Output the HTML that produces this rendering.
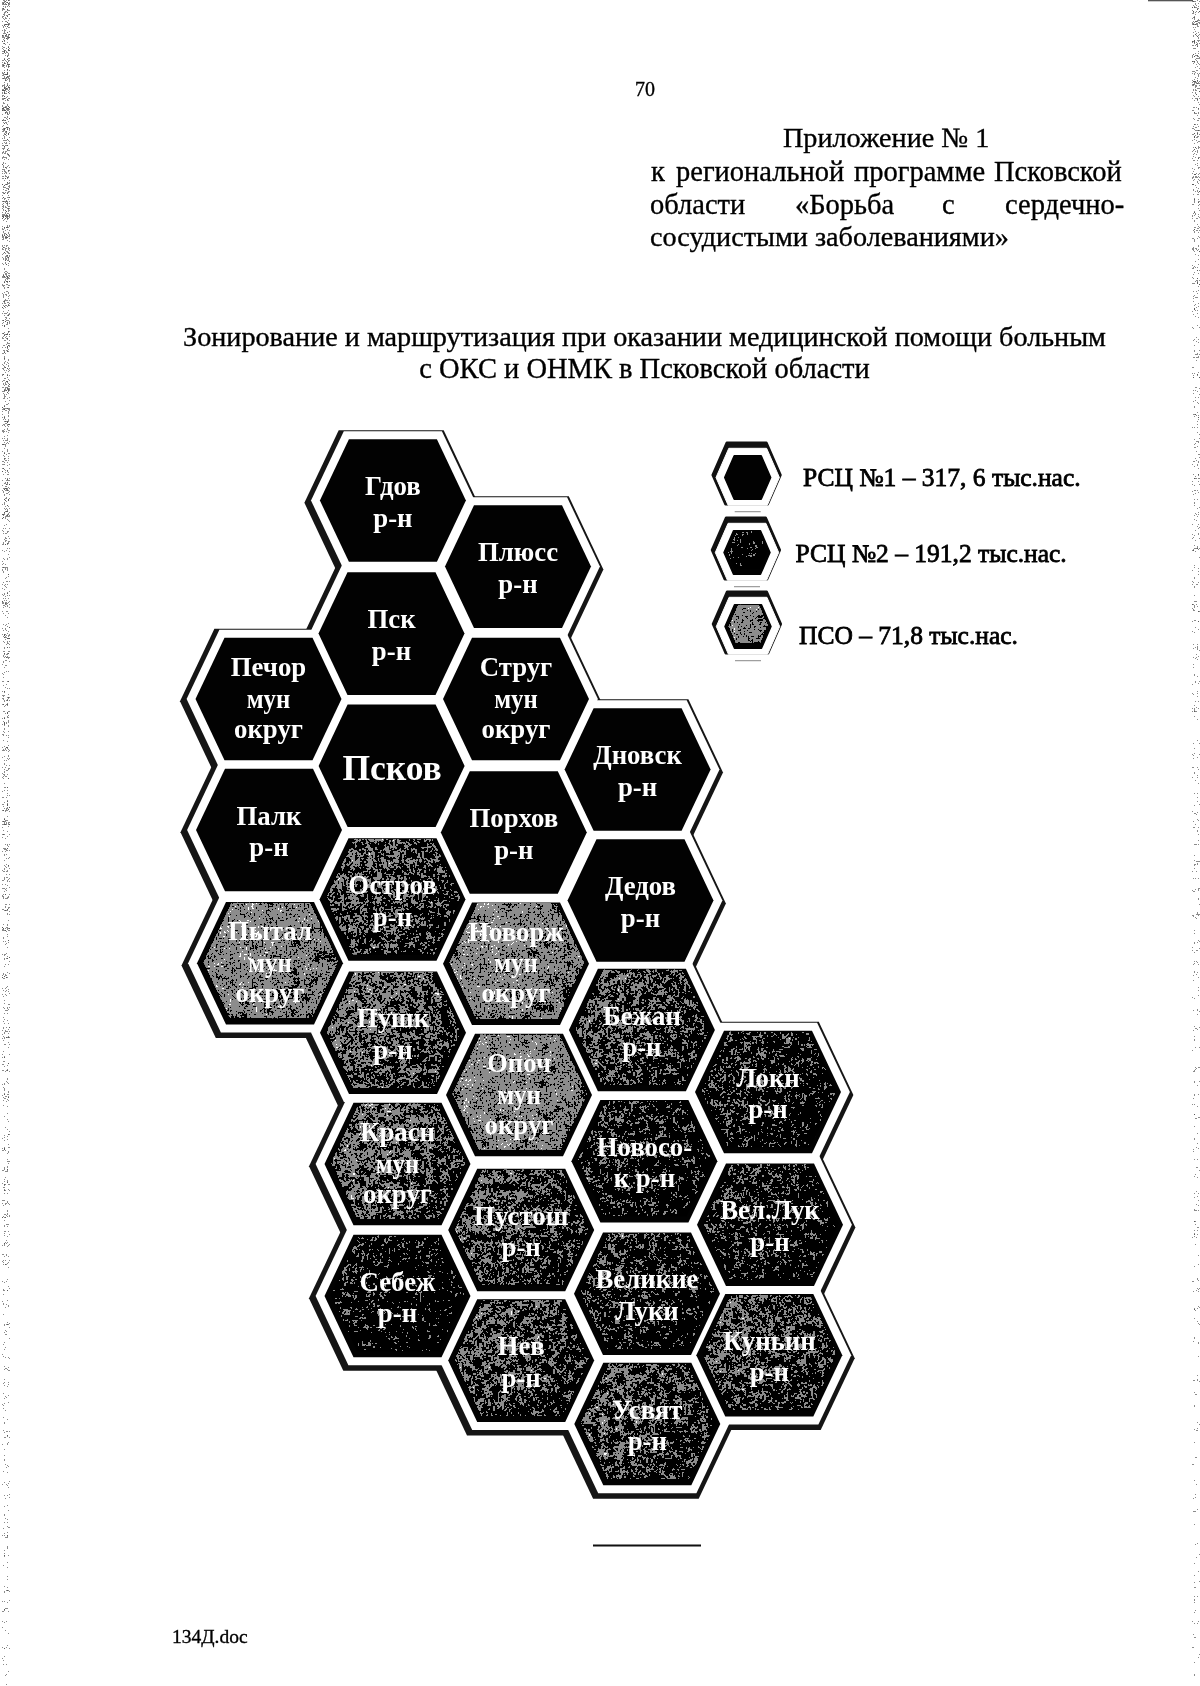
<!DOCTYPE html>
<html><head><meta charset="utf-8"><style>
html,body{margin:0;padding:0;background:#fff;width:1200px;height:1686px;overflow:hidden}
svg{display:block;will-change:transform}
</style></head><body><svg width="1200" height="1686" viewBox="0 0 1200 1686">
<defs>
 <linearGradient id="dm1" x1="0" y1="0" x2="1" y2="0.6">
  <stop offset="0" stop-color="rgb(115,115,115)"/><stop offset="1" stop-color="rgb(89,89,89)"/>
 </linearGradient>
 <linearGradient id="dm2" x1="0" y1="0" x2="1" y2="0.6">
  <stop offset="0" stop-color="rgb(107,107,107)"/><stop offset="1" stop-color="rgb(84,84,84)"/>
 </linearGradient>
 <linearGradient id="dm3" x1="0" y1="0" x2="1" y2="0.6">
  <stop offset="0" stop-color="rgb(94,94,94)"/><stop offset="1" stop-color="rgb(74,74,74)"/>
 </linearGradient>
 <linearGradient id="dm4" x1="0" y1="0" x2="1" y2="0.6">
  <stop offset="0" stop-color="rgb(87,87,87)"/><stop offset="1" stop-color="rgb(66,66,66)"/>
 </linearGradient>
 <linearGradient id="dl" x1="0" y1="0" x2="1" y2="0.6">
  <stop offset="0" stop-color="rgb(128,128,128)"/><stop offset="1" stop-color="rgb(102,102,102)"/>
 </linearGradient>
 <linearGradient id="edl" x1="0" y1="0" x2="0" y2="1">
  <stop offset="0" stop-color="rgb(155,155,155)"/><stop offset="0.4" stop-color="rgb(142,142,142)"/><stop offset="1" stop-color="rgb(128,128,128)"/>
 </linearGradient>
 <linearGradient id="edr" x1="0" y1="0" x2="0" y2="1">
  <stop offset="0" stop-color="rgb(150,150,150)"/><stop offset="0.2" stop-color="rgb(135,135,135)"/><stop offset="1" stop-color="rgb(122,122,122)"/>
 </linearGradient>
 <filter id="edge" color-interpolation-filters="sRGB" x="0" y="0" width="1" height="1">
  <feTurbulence type="fractalNoise" baseFrequency="0.7" numOctaves="1" seed="21" result="n1"/>
  <feTurbulence type="fractalNoise" baseFrequency="0.02 0.15" numOctaves="1" seed="5" result="n2"/>
  <feColorMatrix in="n1" type="matrix" values="1 0 0 0 0  1 0 0 0 0  1 0 0 0 0  0 0 0 0 1" result="g1"/>
  <feColorMatrix in="n2" type="matrix" values="1 0 0 0 0  1 0 0 0 0  1 0 0 0 0  0 0 0 0 1" result="g2"/>
  <feComposite in="g1" in2="g2" operator="arithmetic" k2="0.7" k3="0.3" result="n"/>
  <feComposite in="SourceGraphic" in2="n" operator="arithmetic" k2="1" k3="1" k4="-0.5" result="t"/>
  <feColorMatrix in="t" type="matrix" values="0 0 0 0 0.35  0 0 0 0 0.35  0 0 0 0 0.35  4 0 0 0 -2.2"/>
  <feComponentTransfer><feFuncA type="discrete" tableValues="0 0.7 1"/></feComponentTransfer>
  <feComposite in2="SourceAlpha" operator="in"/>
 </filter>
 <filter id="texM" color-interpolation-filters="sRGB" x="0" y="0" width="1" height="1">
  <feTurbulence type="fractalNoise" baseFrequency="0.45" numOctaves="1" seed="4" result="n1"/>
  <feTurbulence type="fractalNoise" baseFrequency="0.12" numOctaves="2" seed="11" result="n2"/>
  <feColorMatrix in="n1" type="matrix" values="1 0 0 0 0  1 0 0 0 0  1 0 0 0 0  0 0 0 0 1" result="g1"/>
  <feColorMatrix in="n2" type="matrix" values="1 0 0 0 0  1 0 0 0 0  1 0 0 0 0  0 0 0 0 1" result="g2"/>
  <feComposite in="g1" in2="g2" operator="arithmetic" k2="0.6" k3="0.4" result="n"/>
  <feComposite in="SourceGraphic" in2="n" operator="arithmetic" k2="1" k3="1" k4="-0.5" result="t"/>
  <feColorMatrix in="t" type="matrix" values="3 0 0 0 -1  3 0 0 0 -1  3 0 0 0 -1  0 0 0 0 1" result="q"/>
  <feComponentTransfer in="q">
   <feFuncR type="discrete" tableValues="0 0.55 0.55 0.55 1"/>
   <feFuncG type="discrete" tableValues="0 0.55 0.55 0.55 1"/>
   <feFuncB type="discrete" tableValues="0 0.55 0.55 0.55 1"/>
  </feComponentTransfer>
  <feComposite in2="SourceAlpha" operator="in"/>
 </filter>
 <filter id="texL" color-interpolation-filters="sRGB" x="0" y="0" width="1" height="1">
  <feTurbulence type="fractalNoise" baseFrequency="0.5" numOctaves="1" seed="4" result="n1"/>
  <feTurbulence type="fractalNoise" baseFrequency="0.08" numOctaves="2" seed="11" result="n2"/>
  <feColorMatrix in="n1" type="matrix" values="1 0 0 0 0  1 0 0 0 0  1 0 0 0 0  0 0 0 0 1" result="g1"/>
  <feColorMatrix in="n2" type="matrix" values="1 0 0 0 0  1 0 0 0 0  1 0 0 0 0  0 0 0 0 1" result="g2"/>
  <feComposite in="g1" in2="g2" operator="arithmetic" k2="0.65" k3="0.35" result="n"/>
  <feComposite in="SourceGraphic" in2="n" operator="arithmetic" k2="1" k3="1" k4="-0.5" result="t"/>
  <feColorMatrix in="t" type="matrix" values="3 0 0 0 -1  3 0 0 0 -1  3 0 0 0 -1  0 0 0 0 1" result="q"/>
  <feComponentTransfer in="q">
   <feFuncR type="discrete" tableValues="0 0.55 0.55 0.55 0.55 0.55 0.55 1"/>
   <feFuncG type="discrete" tableValues="0 0.55 0.55 0.55 0.55 0.55 0.55 1"/>
   <feFuncB type="discrete" tableValues="0 0.55 0.55 0.55 0.55 0.55 0.55 1"/>
  </feComponentTransfer>
  <feComposite in2="SourceAlpha" operator="in"/>
 </filter>
</defs>
<rect width="1200" height="1686" fill="#fff"/>
<g fill="#000" font-family="'Liberation Serif', serif" stroke="#000" stroke-width="0.35">
 <text x="635" y="96" font-size="20">70</text>
 <text x="783" y="147" font-size="28.2">Приложение № 1</text>
 <text x="651" y="181" font-size="28.5">к</text>
 <text x="676" y="181" font-size="28.5">региональной</text>
 <text x="854" y="181" font-size="28.5">программе</text>
 <text x="994" y="181" font-size="28.5">Псковской</text>
 <text x="650" y="213.5" font-size="28.5">области</text>
 <text x="795" y="213.5" font-size="28.5">«Борьба</text>
 <text x="942" y="213.5" font-size="28.5">с</text>
 <text x="1005" y="213.5" font-size="28.5">сердечно-</text>
 <text x="650" y="246.3" font-size="28.2">сосудистыми заболеваниями»</text>
 <text x="644.5" y="346.3" font-size="28.2" text-anchor="middle">Зонирование и маршрутизация при оказании медицинской помощи больным</text>
 <text x="644.5" y="377.5" font-size="28.5" text-anchor="middle">с ОКС и ОНМК в Псковской области</text>
 <text x="803" y="486" font-size="25.5" stroke-width="0.8">РСЦ №1 – 317, 6 тыс.нас.</text>
 <text x="795.5" y="562" font-size="25.5" stroke-width="0.8">РСЦ №2 – 191,2 тыс.нас.</text>
 <text x="799" y="643.5" font-size="25.5" stroke-width="0.8">ПСО – 71,8 тыс.нас.</text>
 <text x="172" y="1642.5" font-size="19.5">134Д.doc</text>
</g>
<rect x="593" y="1544.5" width="108" height="2" fill="#111"/>
<polygon points="712.7,475.0 726.8,442.8 766.4,442.8 780.5,475.0 767.7,504.2 725.5,504.2" fill="#111" stroke="#111" stroke-width="2.5" stroke-linejoin="round"/><polygon points="716.0,477.5 728.8,448.3 766.6,448.3 779.4,477.5 767.3,505.2 728.1,505.2" fill="#fff" stroke="#fff" stroke-width="1" stroke-linejoin="round"/><rect x="734.7" y="511.2" width="26" height="1" fill="#888"/><polygon points="724.7,477.5 734.2,455.8 761.2,455.8 770.7,477.5 761.2,499.2 734.2,499.2" fill="#020202" stroke="#020202" stroke-width="1.5" stroke-linejoin="round"/><polygon points="712.0,550.0 726.1,517.8 765.7,517.8 779.8,550.0 767.0,579.2 724.8,579.2" fill="#111" stroke="#111" stroke-width="2.5" stroke-linejoin="round"/><polygon points="715.3,552.5 728.1,523.3 765.9,523.3 778.7,552.5 766.6,580.2 727.4,580.2" fill="#fff" stroke="#fff" stroke-width="1" stroke-linejoin="round"/><rect x="734" y="586.2" width="26" height="1" fill="#888"/><polygon points="724.0,552.5 733.5,530.8 760.5,530.8 770.0,552.5 760.5,574.2 733.5,574.2" fill="#020202" stroke="#020202" stroke-width="1.5" stroke-linejoin="round"/><polygon points="727.3,552.5 736.8,530.8 758.3,530.8 767.3,551.3 759.4,569.2 734.6,569.2" fill="url(#dm4)" filter="url(#texM)"/><polygon points="713.0,624.0 727.1,591.8 766.7,591.8 780.8,624.0 768.0,653.2 725.8,653.2" fill="#111" stroke="#111" stroke-width="2.5" stroke-linejoin="round"/><polygon points="716.3,626.5 729.1,597.3 766.9,597.3 779.7,626.5 767.6,654.2 728.4,654.2" fill="#fff" stroke="#fff" stroke-width="1" stroke-linejoin="round"/><rect x="735" y="660.2" width="26" height="1" fill="#888"/><polygon points="725.0,626.5 734.5,604.8 761.5,604.8 771.0,626.5 761.5,648.2 734.5,648.2" fill="#020202" stroke="#020202" stroke-width="1.5" stroke-linejoin="round"/><polygon points="728.3,626.5 737.8,604.8 759.3,604.8 768.3,625.3 760.4,643.2 735.6,643.2" fill="url(#dl)" filter="url(#texL)"/>
<g fill="#151515"><polygon points="304.4,502.8 338.7,430.2 443.7,430.2 478.3,503.4 444.3,575.3 338.6,575.3"/><polygon points="429.5,568.9 463.9,496.3 568.8,496.3 603.4,569.5 569.4,641.4 463.8,641.4"/><polygon points="303.0,635.9 337.4,563.3 442.3,563.3 476.9,636.5 442.9,708.4 337.3,708.4"/><polygon points="180.0,701.3 214.4,628.7 319.3,628.7 353.9,701.9 319.9,773.8 214.3,773.8"/><polygon points="427.5,701.3 461.9,628.7 566.8,628.7 601.4,701.9 567.4,773.8 461.8,773.8"/><polygon points="303.1,768.2 337.5,695.6 442.4,695.6 477.0,768.8 443.0,840.6 337.4,840.6"/><polygon points="549.1,771.8 583.5,699.2 688.4,699.2 723.0,772.4 689.0,844.3 583.4,844.3"/><polygon points="180.5,832.3 214.9,759.7 319.8,759.7 354.4,832.9 320.4,904.8 214.8,904.8"/><polygon points="425.3,834.8 459.6,762.2 564.6,762.2 599.2,835.4 565.2,907.3 459.5,907.3"/><polygon points="304.0,901.8 338.4,829.2 443.3,829.2 477.9,902.4 443.9,974.3 338.3,974.3"/><polygon points="552.0,902.8 586.4,830.2 691.3,830.2 725.9,903.4 691.9,975.3 586.3,975.3"/><polygon points="181.5,965.5 215.9,892.9 320.8,892.9 355.4,966.1 321.4,1038.0 215.8,1038.0"/><polygon points="427.5,966.1 461.9,893.5 566.8,893.5 601.4,966.7 567.4,1038.5 461.8,1038.5"/><polygon points="553.4,1032.3 587.8,959.7 692.7,959.7 727.3,1032.9 693.3,1104.8 587.7,1104.8"/><polygon points="304.5,1035.1 338.9,962.5 443.8,962.5 478.4,1035.7 444.4,1107.6 338.8,1107.6"/><polygon points="430.5,1097.3 464.9,1024.7 569.8,1024.7 604.4,1097.9 570.4,1169.8 464.8,1169.8"/><polygon points="679.5,1094.3 713.9,1021.7 818.8,1021.7 853.4,1094.9 819.4,1166.8 713.8,1166.8"/><polygon points="309.0,1166.3 343.4,1093.7 448.3,1093.7 482.9,1166.9 448.9,1238.8 343.3,1238.8"/><polygon points="555.9,1163.6 590.3,1091.0 695.2,1091.0 729.8,1164.2 695.8,1236.0 590.2,1236.0"/><polygon points="432.8,1232.3 467.1,1159.7 572.1,1159.7 606.7,1232.9 572.7,1304.8 467.0,1304.8"/><polygon points="681.5,1227.0 715.9,1154.4 820.8,1154.4 855.4,1227.6 821.4,1299.5 715.8,1299.5"/><polygon points="309.0,1298.3 343.4,1225.7 448.3,1225.7 482.9,1298.9 448.9,1370.8 343.3,1370.8"/><polygon points="558.5,1296.0 592.9,1223.4 697.8,1223.4 732.4,1296.6 698.4,1368.5 592.8,1368.5"/><polygon points="432.8,1362.9 467.1,1290.3 572.1,1290.3 606.7,1363.5 572.7,1435.4 467.0,1435.4"/><polygon points="680.8,1357.6 715.2,1285.0 820.1,1285.0 854.7,1358.2 820.7,1430.1 715.1,1430.1"/><polygon points="558.8,1426.3 593.2,1353.7 698.1,1353.7 732.7,1426.9 698.7,1498.8 593.1,1498.8"/></g>
<g fill="#fff"><polygon points="311.0,500.5 343.8,431.2 441.9,431.2 474.7,500.5 441.9,569.8 343.8,569.8"/><polygon points="436.1,566.6 468.9,497.3 567.1,497.3 599.9,566.6 567.1,635.9 468.9,635.9"/><polygon points="309.6,633.6 342.4,564.3 440.6,564.3 473.4,633.6 440.6,702.9 342.4,702.9"/><polygon points="186.6,699.0 219.4,629.7 317.6,629.7 350.4,699.0 317.6,768.3 219.4,768.3"/><polygon points="434.1,699.0 466.9,629.7 565.1,629.7 597.9,699.0 565.1,768.3 466.9,768.3"/><polygon points="309.7,765.9 342.5,696.6 440.7,696.6 473.5,765.9 440.7,835.1 342.5,835.1"/><polygon points="555.7,769.5 588.5,700.2 686.7,700.2 719.5,769.5 686.7,838.8 588.5,838.8"/><polygon points="187.1,830.0 219.9,760.7 318.1,760.7 350.9,830.0 318.1,899.3 219.9,899.3"/><polygon points="431.9,832.5 464.7,763.2 562.8,763.2 595.6,832.5 562.8,901.8 464.7,901.8"/><polygon points="310.6,899.5 343.4,830.2 441.6,830.2 474.4,899.5 441.6,968.8 343.4,968.8"/><polygon points="558.6,900.5 591.4,831.2 689.6,831.2 722.4,900.5 689.6,969.8 591.4,969.8"/><polygon points="188.1,963.2 220.9,893.9 319.1,893.9 351.9,963.2 319.1,1032.5 220.9,1032.5"/><polygon points="434.1,963.8 466.9,894.5 565.1,894.5 597.9,963.8 565.1,1033.0 466.9,1033.0"/><polygon points="560.0,1030.0 592.8,960.7 691.0,960.7 723.8,1030.0 691.0,1099.3 592.8,1099.3"/><polygon points="311.1,1032.8 343.9,963.5 442.1,963.5 474.9,1032.8 442.1,1102.1 343.9,1102.1"/><polygon points="437.1,1095.0 469.9,1025.7 568.1,1025.7 600.9,1095.0 568.1,1164.3 469.9,1164.3"/><polygon points="686.1,1092.0 718.9,1022.7 817.1,1022.7 849.9,1092.0 817.1,1161.3 718.9,1161.3"/><polygon points="315.6,1164.0 348.4,1094.7 446.6,1094.7 479.4,1164.0 446.6,1233.3 348.4,1233.3"/><polygon points="562.5,1161.2 595.3,1092.0 693.5,1092.0 726.3,1161.2 693.5,1230.5 595.3,1230.5"/><polygon points="439.4,1230.0 472.2,1160.7 570.3,1160.7 603.1,1230.0 570.3,1299.3 472.2,1299.3"/><polygon points="688.1,1224.7 720.9,1155.4 819.1,1155.4 851.9,1224.7 819.1,1294.0 720.9,1294.0"/><polygon points="315.6,1296.0 348.4,1226.7 446.6,1226.7 479.4,1296.0 446.6,1365.3 348.4,1365.3"/><polygon points="565.1,1293.7 597.9,1224.4 696.1,1224.4 728.9,1293.7 696.1,1363.0 597.9,1363.0"/><polygon points="439.4,1360.6 472.2,1291.3 570.3,1291.3 603.1,1360.6 570.3,1429.9 472.2,1429.9"/><polygon points="687.4,1355.3 720.2,1286.0 818.4,1286.0 851.2,1355.3 818.4,1424.6 720.2,1424.6"/><polygon points="565.4,1424.0 598.2,1354.7 696.4,1354.7 729.2,1424.0 696.4,1493.3 598.2,1493.3"/></g>
<g><polygon points="319.9,500.5 348.9,439.2 436.9,439.2 465.9,500.5 436.9,561.8 348.9,561.8" fill="#020202"/><polygon points="445.0,566.6 474.0,505.3 562.0,505.3 591.0,566.6 562.0,627.9 474.0,627.9" fill="#020202"/><polygon points="318.5,633.6 347.5,572.3 435.5,572.3 464.5,633.6 435.5,694.9 347.5,694.9" fill="#020202"/><polygon points="195.5,699.0 224.5,637.7 312.5,637.7 341.5,699.0 312.5,760.3 224.5,760.3" fill="#020202"/><polygon points="443.0,699.0 472.0,637.7 560.0,637.7 589.0,699.0 560.0,760.3 472.0,760.3" fill="#020202"/><polygon points="318.6,765.9 347.6,704.6 435.6,704.6 464.6,765.9 435.6,827.1 347.6,827.1" fill="#020202"/><polygon points="564.6,769.5 593.6,708.2 681.6,708.2 710.6,769.5 681.6,830.8 593.6,830.8" fill="#020202"/><polygon points="196.0,830.0 225.0,768.7 313.0,768.7 342.0,830.0 313.0,891.3 225.0,891.3" fill="#020202"/><polygon points="440.8,832.5 469.8,771.2 557.8,771.2 586.8,832.5 557.8,893.8 469.8,893.8" fill="#020202"/><polygon points="319.5,899.5 348.5,838.2 436.5,838.2 465.5,899.5 436.5,960.8 348.5,960.8" fill="#020202"/><polygon points="325.6,898.3 353.8,838.7 432.9,838.7 461.1,898.3 434.4,954.8 352.3,954.8" fill="url(#dm2)" filter="url(#texM)"/><polygon points="567.5,900.5 596.5,839.2 684.5,839.2 713.5,900.5 684.5,961.8 596.5,961.8" fill="#020202"/><polygon points="197.0,963.2 226.0,901.9 314.0,901.9 343.0,963.2 314.0,1024.5 226.0,1024.5" fill="#020202"/><polygon points="203.1,962.0 231.3,902.4 310.4,902.4 338.6,962.0 311.9,1018.5 229.8,1018.5" fill="url(#dl)" filter="url(#texL)"/><polygon points="443.0,963.8 472.0,902.5 560.0,902.5 589.0,963.8 560.0,1025.0 472.0,1025.0" fill="#020202"/><polygon points="449.1,962.6 477.3,903.0 556.4,903.0 584.6,962.6 557.9,1019.0 475.8,1019.0" fill="url(#dl)" filter="url(#texL)"/><polygon points="568.9,1030.0 597.9,968.7 685.9,968.7 714.9,1030.0 685.9,1091.3 597.9,1091.3" fill="#020202"/><polygon points="575.0,1028.8 603.2,969.2 682.3,969.2 710.5,1028.8 683.8,1085.3 601.7,1085.3" fill="url(#dm2)" filter="url(#texM)"/><polygon points="320.0,1032.8 349.0,971.5 437.0,971.5 466.0,1032.8 437.0,1094.1 349.0,1094.1" fill="#020202"/><polygon points="326.1,1031.6 354.3,972.0 433.4,972.0 461.6,1031.6 434.9,1088.1 352.8,1088.1" fill="url(#dm1)" filter="url(#texM)"/><polygon points="446.0,1095.0 475.0,1033.7 563.0,1033.7 592.0,1095.0 563.0,1156.3 475.0,1156.3" fill="#020202"/><polygon points="452.1,1093.8 480.3,1034.2 559.4,1034.2 587.6,1093.8 560.9,1150.3 478.8,1150.3" fill="url(#dl)" filter="url(#texL)"/><polygon points="695.0,1092.0 724.0,1030.7 812.0,1030.7 841.0,1092.0 812.0,1153.3 724.0,1153.3" fill="#020202"/><polygon points="701.1,1090.8 729.3,1031.2 808.4,1031.2 836.6,1090.8 809.9,1147.3 727.8,1147.3" fill="url(#dm3)" filter="url(#texM)"/><polygon points="324.5,1164.0 353.5,1102.7 441.5,1102.7 470.5,1164.0 441.5,1225.3 353.5,1225.3" fill="#020202"/><polygon points="330.6,1162.8 358.8,1103.2 437.9,1103.2 466.1,1162.8 439.4,1219.3 357.3,1219.3" fill="url(#dm1)" filter="url(#texM)"/><polygon points="571.4,1161.2 600.4,1100.0 688.4,1100.0 717.4,1161.2 688.4,1222.5 600.4,1222.5" fill="#020202"/><polygon points="577.5,1160.1 605.7,1100.5 684.8,1100.5 713.0,1160.1 686.3,1216.5 604.2,1216.5" fill="url(#dm3)" filter="url(#texM)"/><polygon points="448.2,1230.0 477.2,1168.7 565.2,1168.7 594.2,1230.0 565.2,1291.3 477.2,1291.3" fill="#020202"/><polygon points="454.3,1228.8 482.5,1169.2 561.6,1169.2 589.8,1228.8 563.1,1285.3 481.0,1285.3" fill="url(#dm2)" filter="url(#texM)"/><polygon points="697.0,1224.7 726.0,1163.4 814.0,1163.4 843.0,1224.7 814.0,1286.0 726.0,1286.0" fill="#020202"/><polygon points="703.1,1223.5 731.3,1163.9 810.4,1163.9 838.6,1223.5 811.9,1280.0 729.8,1280.0" fill="url(#dm3)" filter="url(#texM)"/><polygon points="324.5,1296.0 353.5,1234.7 441.5,1234.7 470.5,1296.0 441.5,1357.3 353.5,1357.3" fill="#020202"/><polygon points="330.6,1294.8 358.8,1235.2 437.9,1235.2 466.1,1294.8 439.4,1351.3 357.3,1351.3" fill="url(#dm4)" filter="url(#texM)"/><polygon points="574.0,1293.7 603.0,1232.4 691.0,1232.4 720.0,1293.7 691.0,1355.0 603.0,1355.0" fill="#020202"/><polygon points="580.1,1292.5 608.3,1232.9 687.4,1232.9 715.6,1292.5 688.9,1349.0 606.8,1349.0" fill="url(#dm3)" filter="url(#texM)"/><polygon points="448.2,1360.6 477.2,1299.3 565.2,1299.3 594.2,1360.6 565.2,1421.9 477.2,1421.9" fill="#020202"/><polygon points="454.3,1359.4 482.5,1299.8 561.6,1299.8 589.8,1359.4 563.1,1415.9 481.0,1415.9" fill="url(#dm2)" filter="url(#texM)"/><polygon points="696.3,1355.3 725.3,1294.0 813.3,1294.0 842.3,1355.3 813.3,1416.6 725.3,1416.6" fill="#020202"/><polygon points="702.4,1354.1 730.6,1294.5 809.7,1294.5 837.9,1354.1 811.2,1410.6 729.1,1410.6" fill="url(#dm2)" filter="url(#texM)"/><polygon points="574.3,1424.0 603.3,1362.7 691.3,1362.7 720.3,1424.0 691.3,1485.3 603.3,1485.3" fill="#020202"/><polygon points="580.4,1422.8 608.6,1363.2 687.7,1363.2 715.9,1422.8 689.2,1479.3 607.1,1479.3" fill="url(#dm2)" filter="url(#texM)"/></g>
<g fill="#fff" font-family="'Liberation Serif', serif" font-weight="bold" font-size="26.8" text-anchor="middle"><text x="392.9" y="495.0">Гдов</text><text x="392.9" y="526.5">р-н</text><text x="518.0" y="561.1">Плюсс</text><text x="518.0" y="592.6">р-н</text><text x="391.5" y="628.1">Пск</text><text x="391.5" y="659.6">р-н</text><text x="268.5" y="676.0">Печор</text><text x="268.5" y="707.5" textLength="43.5" lengthAdjust="spacingAndGlyphs">мун</text><text x="268.5" y="737.5">округ</text><text x="516.0" y="676.0">Струг</text><text x="516.0" y="707.5" textLength="43.5" lengthAdjust="spacingAndGlyphs">мун</text><text x="516.0" y="737.5">округ</text><text x="392.1" y="779.9" font-size="35.5">Псков</text><text x="637.6" y="764.0">Дновск</text><text x="637.6" y="795.5">р-н</text><text x="269.0" y="824.5">Палк</text><text x="269.0" y="856.0">р-н</text><text x="513.8" y="827.0">Порхов</text><text x="513.8" y="858.5">р-н</text><text x="392.5" y="894.0">Остров</text><text x="392.5" y="925.5">р-н</text><text x="640.5" y="895.0">Дедов</text><text x="640.5" y="926.5">р-н</text><text x="270.0" y="940.2">Пытал</text><text x="270.0" y="971.7" textLength="43.5" lengthAdjust="spacingAndGlyphs">мун</text><text x="270.0" y="1001.7">округ</text><text x="516.0" y="940.8">Новорж</text><text x="516.0" y="972.2" textLength="43.5" lengthAdjust="spacingAndGlyphs">мун</text><text x="516.0" y="1002.2">округ</text><text x="641.9" y="1024.5">Бежан</text><text x="641.9" y="1056.0">р-н</text><text x="393.0" y="1027.3">Пушк</text><text x="393.0" y="1058.8">р-н</text><text x="519.0" y="1072.0">Опоч</text><text x="519.0" y="1103.5" textLength="43.5" lengthAdjust="spacingAndGlyphs">мун</text><text x="519.0" y="1133.5">округ</text><text x="768.0" y="1086.5">Локн</text><text x="768.0" y="1118.0">р-н</text><text x="397.5" y="1141.0">Красн</text><text x="397.5" y="1172.5" textLength="43.5" lengthAdjust="spacingAndGlyphs">мун</text><text x="397.5" y="1202.5">округ</text><text x="644.4" y="1155.8">Новосо-</text><text x="644.4" y="1187.2">к р-н</text><text x="521.2" y="1224.5">Пустош</text><text x="521.2" y="1256.0">р-н</text><text x="770.0" y="1219.2">Вел.Лук</text><text x="770.0" y="1250.7">р-н</text><text x="397.5" y="1290.5">Себеж</text><text x="397.5" y="1322.0">р-н</text><text x="647.0" y="1288.2">Великие</text><text x="647.0" y="1319.7">Луки</text><text x="521.2" y="1355.1">Нев</text><text x="521.2" y="1386.6">р-н</text><text x="769.3" y="1349.8">Куньин</text><text x="769.3" y="1381.3">р-н</text><text x="647.3" y="1418.5">Усвят</text><text x="647.3" y="1450.0">р-н</text></g>
<rect x="2" y="0" width="8" height="1686" fill="url(#edl)" filter="url(#edge)"/>
<rect x="1192" y="0" width="8" height="1686" fill="url(#edr)" filter="url(#edge)"/>
<rect x="1148" y="0" width="45" height="1.3" fill="#555"/>
</svg></body></html>
